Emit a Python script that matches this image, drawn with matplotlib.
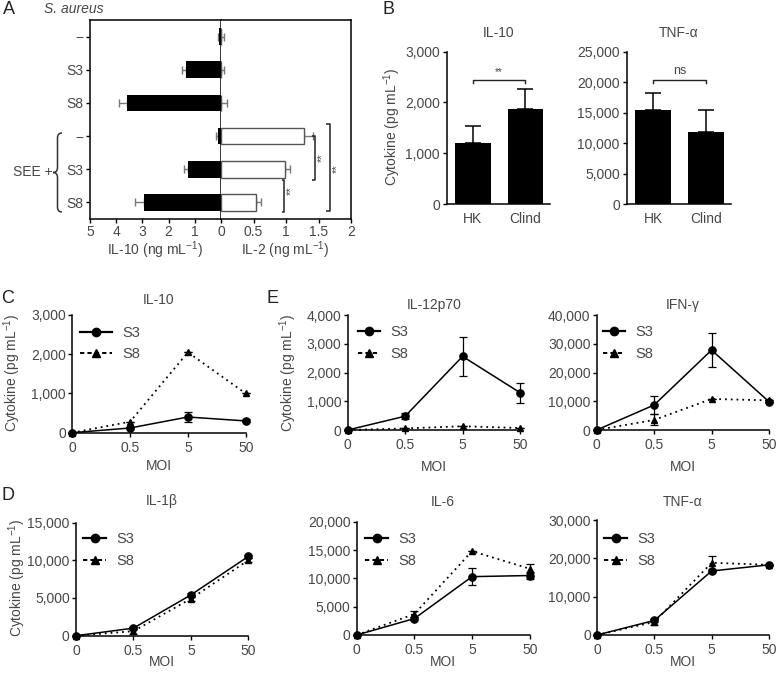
import matplotlib
matplotlib.use('Agg')
import matplotlib.pyplot as plt
from matplotlib.lines import Line2D
from matplotlib.path import Path
from matplotlib.patches import PathPatch
from matplotlib.ticker import FuncFormatter

plt.rcParams['font.family'] = ['Liberation Sans', 'DejaVu Sans']
plt.rcParams['mathtext.fontset'] = 'custom'
plt.rcParams['mathtext.rm'] = 'Liberation Sans'
plt.rcParams['mathtext.it'] = 'Liberation Sans:italic'
plt.rcParams['font.size'] = 10

TXT = '#474747'

# ---------------- data ----------------
# Panel A
a_rows = ['\u2212', 'S3', 'S8', '\u2212', 'S3', 'S8']
a_il10 = [0.08, 1.35, 3.6, 0.12, 1.25, 2.95]
a_il10_err = [0.04, 0.13, 0.30, 0.07, 0.15, 0.35]
a_il2 = [0.0, 0.0, 0.0, 1.27, 0.98, 0.54]
a_il2_err = [0.05, 0.05, 0.09, 0.15, 0.08, 0.08]
a_left_ticks = [5, 4, 3, 2, 1, 0]
a_right_ticks = [0.5, 1, 1.5, 2]
a_right_labels = ['0.5', '1', '1.5', '2']

# Panel B
b_groups = ['HK', 'Clind']
b_il10 = [1200, 1880]
b_il10_err = [330, 390]
b_tnf = [15400, 11900]
b_tnf_err = [2850, 3450]

# Line panels (C, D, E)
moi = ['0', '0.5', '5', '50']
c_il10_s3 = [0, 120, 400, 300]
c_il10_s3_err = [0, 30, 120, 40]
c_il10_s8 = [0, 280, 2050, 1000]
c_il10_s8_err = [0, 0, 0, 0]

e_il12_s3 = [0, 480, 2560, 1300]
e_il12_s3_err = [0, 100, 680, 350]
e_il12_s8 = [0, 55, 130, 70]
e_il12_s8_err = [0, 0, 0, 0]

e_ifn_s3 = [0, 8700, 27800, 9850]
e_ifn_s3_err = [0, 3100, 5800, 0]
e_ifn_s8 = [0, 3500, 10800, 10300]
e_ifn_s8_err = [0, 1900, 0, 0]

d_il1b_s3 = [0, 1000, 5400, 10500]
d_il1b_s3_err = [0, 150, 250, 250]
d_il1b_s8 = [0, 600, 4900, 10000]
d_il1b_s8_err = [0, 350, 300, 300]

d_il6_s3 = [0, 2900, 10300, 10500]
d_il6_s3_err = [0, 300, 1550, 600]
d_il6_s8 = [0, 3700, 14800, 11700]
d_il6_s8_err = [0, 600, 0, 800]

d_tnf_s3 = [0, 3800, 16700, 18300]
d_tnf_s3_err = [0, 500, 300, 0]
d_tnf_s8 = [0, 3400, 18850, 18300]
d_tnf_s8_err = [0, 800, 1700, 0]

# ---------------- figure ----------------
W, H = 777, 674
fig = plt.figure(figsize=(W / 100, H / 100), dpi=100)


def add_ax(x0, x1, y0, y1):
    return fig.add_axes([x0 / W, 1 - y1 / H, (x1 - x0) / W, (y1 - y0) / H])


def ftext(x, y, s, ha='center', va='center', **kw):
    kw.setdefault('color', TXT)
    kw.setdefault('fontsize', 10)
    return fig.text(x / W, 1 - y / H, s, ha=ha, va=va, **kw)


def style_axes(ax):
    for sp in ax.spines.values():
        sp.set_linewidth(1.1)
        sp.set_color('black')
    ax.tick_params(direction='out', length=3, width=1.0, color='black',
                   labelcolor=TXT, labelsize=10, pad=1.5)


comma = FuncFormatter(lambda v, p: f'{int(v):,}')

# ---------------- Panel A ----------------
axL = add_ax(90, 221, 20, 219)
axR = add_ax(221, 351, 20, 219)
rows = list(range(len(a_rows)))
axL.barh(rows, a_il10, height=0.5, color='black', zorder=2)
axL.errorbar(a_il10, rows, xerr=[[0] * 6, a_il10_err], fmt='none',
             ecolor='#777777', elinewidth=1, capsize=3.2, capthick=1, zorder=1)
axL.set_xlim(5, 0)
axL.set_ylim(5.5, -0.5)
axL.set_xticks(a_left_ticks)
axL.set_xticklabels([str(t) for t in a_left_ticks])
axL.set_yticks(rows)
axL.set_yticklabels(a_rows)
style_axes(axL)
axL.tick_params(axis='y', pad=2)

axR.barh(rows, a_il2, height=0.5, color='white', edgecolor='#555555',
         linewidth=1, zorder=2)
axR.errorbar(a_il2, rows, xerr=[[0] * 6, a_il2_err], fmt='none',
             ecolor='#777777', elinewidth=1, capsize=3.2, capthick=1, zorder=1)
axR.set_xlim(0, 2)
axR.set_ylim(5.5, -0.5)
axR.set_xticks(a_right_ticks)
axR.set_xticklabels(a_right_labels)
axR.set_yticks([])
style_axes(axR)
axR.spines['left'].set_visible(False)

# significance brackets (right axis data coordinates)
def vbracket(ax, x, y0, y1, tick, label, lx, ly):
    ax.plot([x - tick, x, x, x - tick], [y0, y0, y1, y1], color='#222222',
            lw=1.1, clip_on=False, solid_capstyle='butt')
    ax.text(lx, ly, label, rotation=90, ha='center', va='center',
            color=TXT, fontsize=8, clip_on=False)

vbracket(axR, 1.45, 3.0, 4.32, 0.05, '**', 1.55, 3.66)
vbracket(axR, 1.68, 2.64, 5.25, 0.07, '**', 1.79, 3.97)
vbracket(axR, 0.975, 4.32, 5.30, 0.04, '**', 1.07, 4.65)

ftext(155, 250, 'IL-10 (ng mL$^{-1}$)')
ftext(285, 250, 'IL-2 (ng mL$^{-1}$)')
ftext(74, 9, 'S. aureus', style='italic')
ftext(33, 172, 'SEE +')

# curly brace
def brace(x_tip, x_end, y_top, y_bot):
    xm = (x_tip + x_end) / 2
    ym = (y_top + y_bot) / 2
    d = 5
    pts = [(x_end, y_top), (xm, y_top), (xm, y_top + d),
           (xm, ym - d), (xm, ym), (x_tip, ym),
           (xm, ym), (xm, ym + d),
           (xm, y_bot - d), (xm, y_bot), (x_end, y_bot)]
    codes = [Path.MOVETO, Path.CURVE3, Path.CURVE3,
             Path.LINETO, Path.CURVE3, Path.CURVE3,
             Path.CURVE3, Path.CURVE3,
             Path.LINETO, Path.CURVE3, Path.CURVE3]
    pts = [(x / W, 1 - y / H) for x, y in pts]
    p = PathPatch(Path(pts, codes), transform=fig.transFigure,
                  fill=False, lw=1.1, edgecolor='#333333')
    fig.add_artist(p)

brace(53, 62, 133, 212)

# ---------------- Panel B ----------------
def bar_panel(x0, x1, vals, errs, ymax, ystep, title, sig):
    ax = add_ax(x0, x1, 51.7, 204)
    pos = list(range(len(b_groups)))
    ax.bar(pos, vals, width=0.68, color='black', zorder=2)
    ax.errorbar(pos, vals, yerr=[[0] * len(vals), errs], fmt='none',
                ecolor='black', elinewidth=1.1, capsize=5.5, capthick=1.1)
    ax.set_xlim(-0.5, 1.47)
    ax.set_ylim(0, ymax)
    ax.set_yticks(list(range(0, ymax + 1, ystep)))
    ax.yaxis.set_major_formatter(comma)
    ax.set_xticks(pos)
    ax.set_xticklabels(b_groups)
    ax.spines['top'].set_visible(False)
    ax.spines['right'].set_visible(False)
    style_axes(ax)
    ax.tick_params(axis='x', length=0, pad=6)
    ax.tick_params(axis='y', pad=2)
    yb = ymax * 0.817
    ax.plot([0, 0, 1, 1], [yb - ymax * 0.025, yb, yb, yb - ymax * 0.025],
            color='#222222', lw=1.0, clip_on=False)
    ax.text(0.5, yb + ymax * 0.015, sig, ha='center', va='bottom',
            color=TXT, fontsize=9 if sig == 'ns' else 7)
    ftext((x0 + x1) / 2, 33, title)
    return ax

bar_panel(446.7, 550, b_il10, b_il10_err, 3000, 1000, 'IL-10', '**')
bar_panel(626.7, 730.7, b_tnf, b_tnf_err, 25000, 5000, 'TNF-\u03b1', 'ns')
ftext(392, 127, 'Cytokine (pg mL$^{-1}$)', rotation=90)

# ---------------- Line panels ----------------
S8_LS = (0, (1, 2.2))


def line_panel(x0, x1, y0, y1, s3, s3e, s8, s8e, ymax, ystep, title,
               title_y, moi_y, leg_x, leg_y, hlen):
    ax = add_ax(x0, x1, y0, y1)
    x = list(range(len(moi)))
    ax.errorbar(x, s3, yerr=s3e, fmt='none', ecolor='black', elinewidth=0.9,
                capsize=3, capthick=0.9, clip_on=False)
    ax.errorbar(x, s8, yerr=s8e, fmt='none', ecolor='black', elinewidth=0.9,
                capsize=3, capthick=0.9, clip_on=False)
    ax.plot(x, s3, color='black', lw=1.1, marker='o', markersize=5.2,
            clip_on=False, zorder=3)
    ax.plot(x, s8, color='black', lw=1.3, ls=S8_LS, marker='^',
            markersize=4.8, clip_on=False, zorder=3)
    ax.set_xlim(0, 3)
    ax.set_ylim(0, ymax)
    ax.set_xticks(x)
    ax.set_xticklabels(moi)
    ax.set_yticks(list(range(0, ymax + 1, ystep)))
    ax.yaxis.set_major_formatter(comma)
    ax.spines['top'].set_visible(False)
    ax.spines['right'].set_visible(False)
    style_axes(ax)
    ax.tick_params(axis='x', pad=3)
    ftext((x0 + x1) / 2, title_y, title)
    ftext((x0 + x1) / 2, moi_y, 'MOI')
    handles = [Line2D([], [], color='black', lw=1.6, marker='o', markersize=6),
               Line2D([], [], color='black', lw=1.4, ls=(0, (2.2, 1.6)),
                      marker='^', markersize=5.5)]
    leg = ax.legend(handles, ['S3', 'S8'], loc='center left',
                    bbox_to_anchor=(leg_x / W, 1 - leg_y / H),
                    bbox_transform=fig.transFigure, frameon=False,
                    borderpad=0, borderaxespad=0, handlelength=hlen,
                    handletextpad=0.7, labelspacing=0.5, fontsize=10.5)
    for t in leg.get_texts():
        t.set_color(TXT)
    return ax

# C
line_panel(72.3, 245.7, 315, 432.7, c_il10_s3, c_il10_s3_err, c_il10_s8,
           c_il10_s8_err, 3000, 1000, 'IL-10', 300, 466, 80, 343.5, 2.2)
# E
line_panel(347.7, 520, 315, 430, e_il12_s3, e_il12_s3_err, e_il12_s8,
           e_il12_s8_err, 4000, 1000, 'IL-12p70', 305, 467, 358, 343, 1.5)
line_panel(596.7, 769, 315, 430, e_ifn_s3, e_ifn_s3_err, e_ifn_s8,
           e_ifn_s8_err, 40000, 10000, 'IFN-\u03b3', 305, 467, 603, 343, 1.5)
# D
line_panel(76, 248.3, 522.5, 635.7, d_il1b_s3, d_il1b_s3_err, d_il1b_s8,
           d_il1b_s8_err, 15000, 5000, 'IL-1\u03b2', 501.5, 662, 83, 550, 1.6)
line_panel(356.7, 529.7, 521.7, 635, d_il6_s3, d_il6_s3_err, d_il6_s8,
           d_il6_s8_err, 20000, 5000, 'IL-6', 501.5, 662, 365, 550, 1.6)
line_panel(597, 769, 520, 635, d_tnf_s3, d_tnf_s3_err, d_tnf_s8,
           d_tnf_s8_err, 30000, 10000, 'TNF-\u03b1', 501.5, 662, 604, 550, 1.6)

ftext(12, 373, 'Cytokine (pg mL$^{-1}$)', rotation=90)
ftext(288, 373, 'Cytokine (pg mL$^{-1}$)', rotation=90)
ftext(17, 578, 'Cytokine (pg mL$^{-1}$)', rotation=90)

# panel letters
for lab, x, y in [('A', 9, 10), ('B', 388, 10), ('C', 8, 298),
                  ('E', 272, 298), ('D', 8, 495)]:
    ftext(x, y, lab, fontsize=13, color='#222222')

fig.savefig('out.png', dpi=100)
